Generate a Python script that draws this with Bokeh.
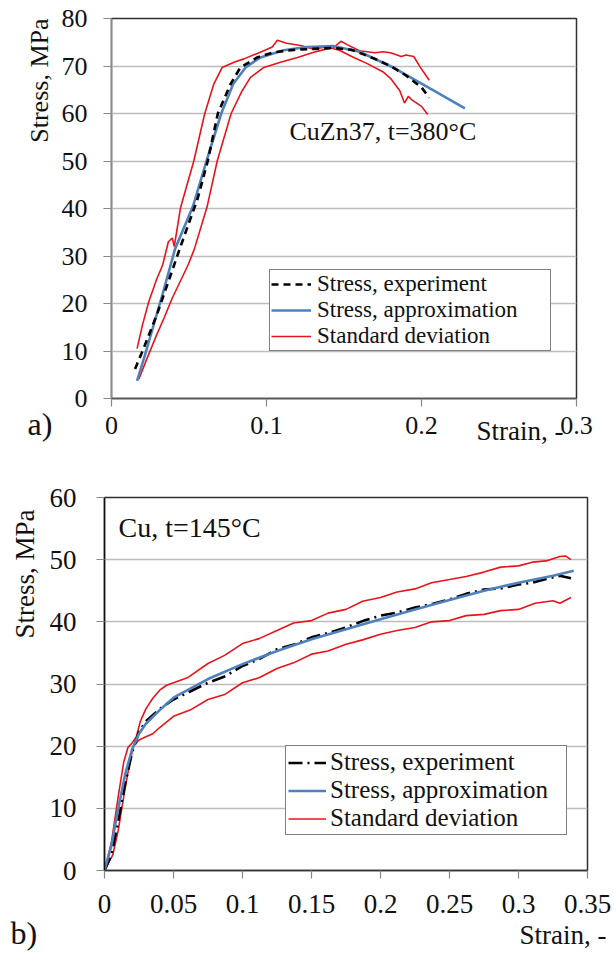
from bokeh.plotting import figure
from bokeh.layouts import column
from bokeh.models import Label, Legend, LegendItem, FixedTicker, Range1d, Title
from bokeh.embed import file_html
from bokeh.resources import INLINE

# ---------------- data: chart a (CuZn37, t=380°C) ----------------
a_exp_x = [0.0152, 0.0215, 0.0291, 0.0367, 0.0440, 0.0500, 0.0555, 0.0621, 0.0686, 0.0768, 0.0832,
           0.094, 0.1047, 0.1176, 0.130, 0.143, 0.155, 0.170, 0.180, 0.190, 0.200, 0.205]
a_exp_y = [6.2, 11.2, 17.5, 24.6, 31.5, 37.0, 42.0, 50.0, 60.0, 66.2, 69.7,
           71.8, 72.9, 73.4, 73.6, 73.8, 73.4, 71.5, 70.0, 68.0, 65.5, 63.3]

a_fit_x = [0.0165, 0.021, 0.025, 0.033, 0.041, 0.0525, 0.0613, 0.0708, 0.0785, 0.0865, 0.0961,
           0.111, 0.126, 0.143, 0.160, 0.181, 0.200, 0.206, 0.228]
a_fit_y = [3.7, 8.5, 13.0, 22.0, 31.5, 40.4, 50.0, 60.0, 66.2, 69.7, 71.8,
           73.3, 74.0, 74.2, 73.0, 69.8, 66.3, 65.2, 61.1]

a_dev1_x = [0.0165, 0.020, 0.024, 0.029, 0.033, 0.0367, 0.0392, 0.0405, 0.0445, 0.0531, 0.060, 0.066,
            0.0714, 0.079, 0.0854, 0.096, 0.1037, 0.107, 0.113, 0.122, 0.130, 0.139, 0.147, 0.155,
            0.165, 0.175, 0.180, 0.186, 0.189, 0.1915, 0.194, 0.200, 0.204]
a_dev1_y = [10.5, 15.5, 20.3, 25.0, 28.1, 33.0, 33.8, 32.0, 40.1, 50.0, 59.8, 66.2,
            69.7, 70.8, 71.5, 72.9, 74.0, 75.4, 74.8, 74.3, 73.6, 74.0, 73.3, 72.0,
            70.5, 68.8, 67.4, 64.8, 62.2, 63.6, 62.8, 61.5, 59.8]

a_dev2_x = [0.0177, 0.023, 0.029, 0.034, 0.039, 0.0494, 0.0535, 0.0617, 0.0682, 0.0772, 0.0843,
            0.0897, 0.0983, 0.109, 0.120, 0.1305, 0.139, 0.143, 0.148, 0.152, 0.160, 0.170,
            0.175, 0.180, 0.187, 0.190, 0.195, 0.1995, 0.205]
a_dev2_y = [4.1, 8.5, 13.3, 17.0, 21.0, 28.1, 31.5, 40.4, 50.0, 60.0, 64.8,
            67.6, 69.7, 70.8, 71.8, 72.9, 73.6, 73.8, 75.2, 74.5, 73.2, 72.8,
            73.0, 72.8, 72.0, 72.3, 72.0, 69.6, 67.0]

a_xticks = [0, 0.1, 0.2, 0.3]
a_xlabels = ["0", "0.1", "0.2", "0.3"]
a_yticks = [0, 10, 20, 30, 40, 50, 60, 70, 80]

# ---------------- data: chart b (Cu, t=145°C) ----------------
b_exp_x = [0, 0.005, 0.01, 0.015, 0.02, 0.025, 0.03, 0.04, 0.05, 0.062, 0.075, 0.088, 0.1, 0.112,
           0.125, 0.138, 0.15, 0.162, 0.175, 0.188, 0.2, 0.212, 0.225, 0.238, 0.25, 0.262, 0.275,
           0.288, 0.3, 0.31, 0.32, 0.33, 0.338]
b_exp_y = [0, 2.5, 8.0, 14.0, 19.0, 22.3, 24.0, 26.0, 27.5, 28.8, 30.2, 31.3, 32.9, 34.0,
           35.6, 36.4, 37.5, 38.2, 39.1, 40.2, 41.0, 41.5, 42.3, 42.9, 43.6, 44.5, 45.2,
           45.4, 46.0, 46.3, 46.9, 47.4, 47.0]

b_fit_x = [0, 0.005, 0.01, 0.015, 0.02, 0.025, 0.03, 0.04, 0.05, 0.075, 0.1, 0.125, 0.15, 0.175,
           0.2, 0.225, 0.25, 0.275, 0.3, 0.325, 0.34]
b_fit_y = [0, 4.0, 10.0, 15.5, 19.5, 22.0, 23.6, 25.8, 27.8, 30.8, 33.2, 35.3, 37.2, 38.8,
           40.4, 42.0, 43.5, 45.0, 46.3, 47.4, 48.2]

b_dev1_x = [0, 0.005, 0.01, 0.014, 0.017, 0.02, 0.023, 0.026, 0.03, 0.035, 0.04, 0.045, 0.05, 0.06,
            0.075, 0.087, 0.1, 0.112, 0.125, 0.137, 0.15, 0.162, 0.175, 0.187, 0.2, 0.212, 0.225,
            0.237, 0.25, 0.262, 0.275, 0.287, 0.3, 0.31, 0.32, 0.33, 0.334, 0.338]
b_dev1_y = [0, 4.5, 12.0, 17.5, 19.8, 20.5, 21.5, 24.0, 26.0, 27.7, 29.0, 29.8, 30.2, 31.0,
            33.3, 34.6, 36.5, 37.3, 38.6, 39.8, 40.2, 41.4, 42.0, 43.3, 43.9, 44.8, 45.3,
            46.3, 46.8, 47.3, 48.0, 48.8, 49.0, 49.6, 49.8, 50.5, 50.6, 50.0]

b_dev2_x = [0, 0.006, 0.01, 0.014, 0.018, 0.021, 0.025, 0.03, 0.035, 0.04, 0.05, 0.062, 0.075,
            0.087, 0.1, 0.112, 0.125, 0.137, 0.15, 0.162, 0.175, 0.187, 0.2, 0.212, 0.225, 0.237,
            0.25, 0.262, 0.275, 0.287, 0.3, 0.312, 0.325, 0.33, 0.338]
b_dev2_y = [0, 2.5, 6.5, 12.0, 17.0, 20.0, 21.0, 21.5, 22.0, 23.0, 24.8, 25.8, 27.5,
            28.3, 30.2, 31.0, 32.5, 33.4, 34.8, 35.3, 36.4, 37.1, 38.0, 38.6, 39.1, 40.0,
            40.2, 41.0, 41.2, 41.8, 42.0, 43.0, 43.4, 43.0, 43.9]

b_xticks = [0, 0.05, 0.1, 0.15, 0.2, 0.25, 0.3, 0.35]
b_xlabels = ["0", "0.05", "0.1", "0.15", "0.2", "0.25", "0.3", "0.35"]
b_yticks = [0, 10, 20, 30, 40, 50, 60]

SERIF = "Liberation Serif"
RED = "#e8141b"
BLUE = "#4f81bd"
INK = "#111111"


def style(p, xticks, xlabels, yticks, fs, xstand, ystand):
    try:
        p.frame_align = False
    except Exception:
        pass
    p.outline_line_color = "#303030"
    p.outline_line_width = 1.5
    p.xgrid.visible = False
    p.ygrid.grid_line_color = "#bdbdbd"
    p.ygrid.grid_line_width = 1.5
    p.xaxis.ticker = FixedTicker(ticks=xticks)
    p.xaxis.major_label_overrides = {t: l for t, l in zip(xticks, xlabels)}
    p.yaxis.ticker = FixedTicker(ticks=yticks)
    for axl in (p.xaxis, p.yaxis):
        axl.axis_line_color = "#555555"
        axl.axis_line_width = 1.5
        axl.major_tick_line_color = "#888888"
        axl.major_tick_line_width = 1.2
        axl.major_tick_out = 8
        axl.major_tick_in = 0
        axl.minor_tick_out = 0
        axl.minor_tick_in = 0
        axl.major_label_text_font = SERIF
        axl.major_label_text_font_size = fs
        axl.major_label_text_color = INK
    p.xaxis.major_label_standoff = xstand
    p.yaxis.major_label_standoff = ystand


def title(p, side, text, fs, align, valign, standoff, offset):
    p.add_layout(Title(text=text, align=align, vertical_align=valign, standoff=standoff,
                       offset=offset, text_font=SERIF, text_font_size=fs,
                       text_font_style="normal", text_color=INK), side)


# ---------------- chart a ----------------
pa = figure(width=614, height=460, output_backend="svg", toolbar_location=None,
            x_range=Range1d(0, 0.3), y_range=Range1d(0, 80),
            min_border_left=111, min_border_right=38, min_border_top=18, min_border_bottom=62)
style(pa, a_xticks, a_xlabels, a_yticks, "26px", 10, 16)
pa.yaxis.axis_line_color = "#8c8c8c"

ra_d1 = pa.line(a_dev1_x, a_dev1_y, line_color=RED, line_width=1.6)
pa.line(a_dev2_x, a_dev2_y, line_color=RED, line_width=1.6)
ra_fit = pa.line(a_fit_x, a_fit_y, line_color=BLUE, line_width=2.6)
ra_exp = pa.line(a_exp_x, a_exp_y, line_color="black", line_width=2.6, line_dash="7 5")

leg_a = Legend(items=[LegendItem(label="Stress, experiment", renderers=[ra_exp]),
                      LegendItem(label="Stress, approximation", renderers=[ra_fit]),
                      LegendItem(label="Standard deviation", renderers=[ra_d1])],
               location=(158, 47), padding=1, spacing=0, margin=0,
               label_text_font=SERIF, label_text_font_size="23px", label_text_color=INK,
               label_height=24, glyph_height=24, glyph_width=40, label_standoff=6, label_width=232,
               border_line_color="black", border_line_width=1.5,
               background_fill_color="white", background_fill_alpha=1.0)
pa.add_layout(leg_a, "center")

pa.add_layout(Label(x=178, y=253, x_units="screen", y_units="screen", text="CuZn37, t=380°C",
                    text_font=SERIF, text_font_size="26px", text_color=INK))
title(pa, "left", "Stress, MPa", "26px", "right", "bottom", 10, 0)
title(pa, "below", "Strain, -", "27px", "right", "top", -42, 13)
title(pa, "below", "a)", "32px", "left", "top", -62, -84)

# ---------------- chart b ----------------
pb = figure(width=614, height=493, output_backend="svg", toolbar_location=None,
            x_range=Range1d(0, 0.35), y_range=Range1d(0, 60),
            min_border_left=102, min_border_right=27, min_border_top=37, min_border_bottom=83)
style(pb, b_xticks, b_xlabels, b_yticks, "27px", 16, 20)
pb.yaxis.axis_line_color = INK
pb.xaxis.axis_line_color = "#333333"

rb_d1 = pb.line(b_dev1_x, b_dev1_y, line_color=RED, line_width=1.6)
pb.line(b_dev2_x, b_dev2_y, line_color=RED, line_width=1.6)
rb_exp = pb.line(b_exp_x, b_exp_y, line_color="black", line_width=2.6, line_dash="14 5 2 5")
rb_fit = pb.line(b_fit_x, b_fit_y, line_color=BLUE, line_width=2.6)

leg_b = Legend(items=[LegendItem(label="Stress, experiment", renderers=[rb_exp]),
                      LegendItem(label="Stress, approximation", renderers=[rb_fit]),
                      LegendItem(label="Standard deviation", renderers=[rb_d1])],
               location=(181, 35), padding=2, spacing=0, margin=0,
               label_text_font=SERIF, label_text_font_size="25px", label_text_color=INK,
               label_height=27, glyph_height=27, glyph_width=38, label_standoff=4, label_width=234,
               border_line_color="black", border_line_width=1.5,
               background_fill_color="white", background_fill_alpha=1.0)
pb.add_layout(leg_b, "center")

pb.add_layout(Label(x=14, y=328, x_units="screen", y_units="screen", text="Cu, t=145°C",
                    text_font=SERIF, text_font_size="28px", text_color=INK))
title(pb, "left", "Stress, MPa", "27px", "right", "bottom", 14, 12)
title(pb, "below", "b)", "32px", "left", "bottom", -6, -94)
title(pb, "below", "Strain, -", "27px", "right", "top", -56, -19)

layout = column(pa, pb)
open("out.html", "w").write(file_html(layout, INLINE))
